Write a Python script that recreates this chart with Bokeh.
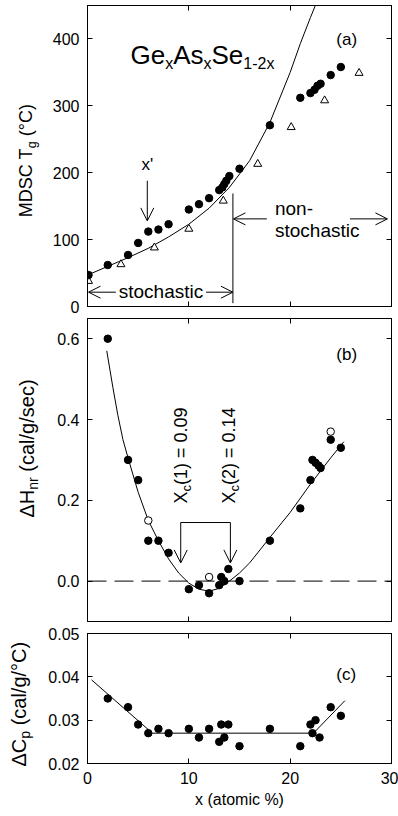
import math
from bokeh.plotting import figure
from bokeh.layouts import column, row
from bokeh.models import (Range1d, FixedTicker, LinearAxis, Label, Arrow, OpenHead,
                          Span, NumeralTickFormatter)
from bokeh.embed import file_html
from bokeh.resources import INLINE

FONT = "Liberation Sans"

# ---------------- data ----------------
# (a) MDSC Tg
tg_x = [0.1, 2, 4, 5, 6, 7, 8, 10, 11, 12, 13, 13.3, 13.5, 13.7, 14, 15, 18, 21, 22, 22.4, 22.7, 23, 24, 25]
tg_y = [47, 62, 77, 95, 112, 115, 123, 145, 153, 162, 174, 178, 183, 188, 195, 206, 271, 312, 319, 324, 330, 333, 346, 358]
tri_x = [0.1, 3.3, 6.6, 10, 13.4, 16.8, 20.1, 23.4, 26.8]
tri_y = [38, 63, 88, 116, 158, 213, 268, 308, 349]
fit_a_x = [0, 2, 4, 6, 8, 10, 12, 14, 16, 18, 20, 21, 22, 22.7]
fit_a_y = [47, 60, 73, 87, 104, 123, 147, 178, 218, 275, 350, 393, 432, 458]

# (b) non-reversing enthalpy
hnr_x = [2, 4, 5, 6, 7, 8, 10, 11, 12, 13, 13.2, 13.5, 13.9, 15, 18, 21, 22, 22.2, 22.5, 22.8, 23.0, 24, 25]
hnr_y = [0.60, 0.30, 0.25, 0.10, 0.10, 0.07, -0.02, -0.01, -0.03, -0.01, 0.01, 0.0, 0.03, 0.0,
         0.10, 0.18, 0.25, 0.30, 0.293, 0.286, 0.28, 0.35, 0.33]
hnr_open_x = [6, 12, 24]
hnr_open_y = [0.15, 0.01, 0.37]
fit_b_x = [1.9, 2.5, 3, 3.5, 4, 5, 6, 7, 8, 9, 10, 11, 12, 13, 14, 15, 16, 18, 20, 22, 24, 25.3]
fit_b_y = [0.57, 0.48, 0.41, 0.35, 0.305, 0.22, 0.15, 0.10, 0.055, 0.02, -0.005, -0.02, -0.025,
           -0.018, 0.0, 0.02, 0.045, 0.108, 0.17, 0.24, 0.305, 0.345]

# (c) delta Cp
cp_x = [2, 4, 5, 6, 7, 8, 10, 11, 12, 13, 13.2, 13.5, 13.9, 15, 18, 21, 22, 22.2, 22.5, 22.9, 24, 25]
cp_y = [0.035, 0.033, 0.029, 0.027, 0.028, 0.027, 0.028, 0.026, 0.028, 0.025, 0.029, 0.026, 0.029,
        0.024, 0.028, 0.024, 0.029, 0.027, 0.030, 0.026, 0.033, 0.031]
fit_c_x = [0.4, 6.4, 22.3, 25.4]
fit_c_y = [0.0393, 0.027, 0.027, 0.0345]

x_ticks = [0, 10, 20, 30]
a_ticks = [0, 100, 200, 300, 400]
b_ticks = [0.0, 0.2, 0.4, 0.6]
c_ticks = [0.02, 0.03, 0.04, 0.05]

# --------------- helpers ---------------
W = {'M': 833, 'D': 722, 'S': 667, 'C': 722, ' ': 278, 'T': 611, 'g': 556, '(': 333, '°': 400,
     ')': 333, 'Δ': 668, 'H': 722, 'n': 556, 'r': 333, 'c': 500, 'a': 556, 'l': 222, '/': 278,
     's': 500, 'e': 556, 'p': 556, 'X': 667, '1': 556, '2': 556, '0': 556, '9': 556, '4': 556,
     '.': 278, '=': 584, 'G': 778, 'A': 667, 'x': 500, '-': 333}
MID = 0.35  # distance (em) from baseline up to the middle of the text box


def tw(text, size):
    return sum(W.get(ch, 556) for ch in text) * size / 1000.0


def lab(p, x, y, text, size, align="left", angle=0.0, xo=0.0, yo=0.0):
    # (x, y) + offsets give the baseline point; the label is anchored at the box middle
    if angle == 0.0:
        yo = yo + MID * size
    else:
        xo = xo - MID * size
    p.add_layout(Label(x=x, y=y, text=text, angle=angle, x_offset=xo, y_offset=yo,
                       text_font=FONT, text_font_size=f"{size}px", text_color="black",
                       text_align=align, text_baseline="middle"))


def rich(p, x, y, pieces, angle=0.0):
    along = 0.0
    for text, size, shift in pieces:
        stripped = text.lstrip(" ")
        along += tw(text[:len(text) - len(stripped)], size)
        if angle == 0.0:
            xo, yo = along, -shift
        else:
            xo, yo = shift, along
        lab(p, x, y, stripped, size, angle=angle, xo=xo, yo=yo)
        along += tw(stripped, size)


def style_axis(ax, ticks, labels=False, fmt=None):
    ax.ticker = FixedTicker(ticks=ticks)
    ax.major_tick_in = 5
    ax.major_tick_out = 0
    ax.minor_tick_line_color = None
    ax.axis_line_color = "black"
    ax.major_tick_line_color = "black"
    if labels:
        ax.major_label_text_font = FONT
        ax.major_label_text_font_size = "16px"
        ax.major_label_text_color = "black"
        ax.major_label_standoff = 8
        if fmt:
            ax.formatter = NumeralTickFormatter(format=fmt)
    else:
        ax.major_label_text_font_size = "1px"
        ax.major_label_text_color = None
        ax.major_label_standoff = 0


LEFT_W = 44
TOTAL_H = 816


def make_fig(height, yr, top, bottom, yticks, fmt, xlabels=False):
    p = figure(width=398 - LEFT_W, height=height, x_range=Range1d(0, 30), y_range=Range1d(*yr),
               output_backend="svg", toolbar_location=None, min_border=0)
    p.min_border_left = 87 - LEFT_W
    p.min_border_right = 7
    p.min_border_top = top
    p.min_border_bottom = bottom
    p.grid.visible = False
    p.outline_line_color = "black"
    p.outline_line_width = 1
    p.background_fill_color = "white"
    p.border_fill_color = "white"
    bottom_axis = p.xaxis[0]
    style_axis(bottom_axis, x_ticks, labels=xlabels, fmt="0")
    style_axis(p.yaxis[0], yticks, labels=True, fmt=fmt)
    ra = LinearAxis()
    style_axis(ra, yticks)
    p.add_layout(ra, "right")
    ta = LinearAxis()
    style_axis(ta, x_ticks)
    p.add_layout(ta, "above")
    return p, bottom_axis


HA, HB, HC = 316, 307, 193

# side strip carrying the three y-axis titles (pixel coordinates, y measured upward)
side = figure(width=LEFT_W, height=TOTAL_H, x_range=Range1d(0, LEFT_W), y_range=Range1d(0, TOTAL_H),
              output_backend="svg", toolbar_location=None, min_border=0,
              x_axis_location=None, y_axis_location=None)
side.grid.visible = False
side.outline_line_color = None
side.background_fill_color = "white"
side.border_fill_color = "white"

# --------------- panel (a) ---------------
pa, _ = make_fig(HA, (0, 450), 5, 10, a_ticks, "0")
pa.line(fit_a_x, fit_a_y, line_color="black", line_width=1)
pa.scatter(tri_x, tri_y, marker="triangle", size=8, fill_color="white", line_color="black", line_width=1)
pa.scatter(tg_x, tg_y, marker="circle", size=7.5, fill_color="black", line_color="black")

rich(pa, 4.24, 362.8, [("Ge", 26, 0), ("x", 16, 5), ("As", 26, 0), ("x", 16, 5),
                       ("Se", 26, 0), ("1-2x", 16, 5)])
lab(pa, 24.55, 390, "(a)", 17)

# x' arrow
lab(pa, 5.9, 203, "x'", 17, align="center")
pa.add_layout(Arrow(x_start=5.9, y_start=188, x_end=5.9, y_end=128, line_width=1,
                    end=OpenHead(size=13, line_width=1)))

# stochastic / non-stochastic
x_split = 14.35
pa.segment(x0=[x_split], y0=[169], x1=[x_split], y1=[5], line_color="black", line_width=1)
lab(pa, 7.25, 12, "stochastic", 19, align="center")
pa.add_layout(Arrow(x_start=2.8, y_start=21.4, x_end=0.1, y_end=21.4, line_width=1,
                    end=OpenHead(size=12, line_width=1)))
pa.add_layout(Arrow(x_start=11.7, y_start=21.4, x_end=x_split, y_end=21.4, line_width=1,
                    end=OpenHead(size=12, line_width=1)))
lab(pa, 18.5, 136, "non-", 19)
lab(pa, 18.5, 103.6, "stochastic", 19)
pa.add_layout(Arrow(x_start=17.7, y_start=131, x_end=x_split + 0.05, y_end=131, line_width=1,
                    end=OpenHead(size=12, line_width=1)))
pa.add_layout(Arrow(x_start=25.9, y_start=131, x_end=29.6, y_end=131, line_width=1,
                    end=OpenHead(size=12, line_width=1)))

rich(side, 32, TOTAL_H - 216.7, [("MDSC T", 18, 0), ("g", 12.5, 3.5), (" (°C)", 18, 0)], angle=math.pi / 2)

# --------------- panel (b) ---------------
pb, _ = make_fig(HB, (-0.1, 0.65), 2, 2, b_ticks, "0.0")
pb.add_layout(Span(location=0, dimension="width", line_color="black", line_width=1, line_dash="19 8"))
pb.line(fit_b_x, fit_b_y, line_color="black", line_width=1)
pb.scatter(hnr_x, hnr_y, marker="circle", size=7.5, fill_color="black", line_color="black")
pb.scatter(hnr_open_x, hnr_open_y, marker="circle", size=7.5, fill_color="white", line_color="black")
lab(pb, 24.55, 0.546, "(b)", 17)

xc1, xc2, yb = 9.2, 14.1, 0.145
pb.segment(x0=[xc1], y0=[yb], x1=[xc2], y1=[yb], line_color="black", line_width=1)
for xc in (xc1, xc2):
    pb.add_layout(Arrow(x_start=xc, y_start=yb, x_end=xc, y_end=0.045, line_width=1,
                        end=OpenHead(size=13, line_width=1)))
rich(pb, 9.87, 0.192, [("X", 18, 0), ("c", 13, 3.5), ("(1) = 0.09", 18, 0)], angle=math.pi / 2)
rich(pb, 14.6, 0.192, [("X", 18, 0), ("c", 13, 3.5), ("(2) = 0.14", 18, 0)], angle=math.pi / 2)

rich(side, 33, TOTAL_H - 517, [("ΔH", 20, 0), ("nr", 14, 4), (" (cal/g/sec)", 20, 0)], angle=math.pi / 2)

# --------------- panel (c) ---------------
pc, xc_axis = make_fig(HC, (0.02, 0.05), 10, 53, c_ticks, "0.00", xlabels=True)
xc_axis.axis_label = "x (atomic %)"
xc_axis.axis_label_text_font = FONT
xc_axis.axis_label_text_font_size = "16px"
xc_axis.axis_label_text_font_style = "normal"
xc_axis.axis_label_text_color = "black"
xc_axis.axis_label_standoff = 4
pc.line(fit_c_x, fit_c_y, line_color="black", line_width=1)
pc.scatter(cp_x, cp_y, marker="circle", size=7.5, fill_color="black", line_color="black")
lab(pc, 24.55, 0.0391, "(c)", 17)

rich(side, 25, TOTAL_H - 766, [("ΔC", 20, 0), ("p", 14, 4), (" (cal/g/°C)", 20, 0)], angle=math.pi / 2)

layout = row(side, column(pa, pb, pc, spacing=0), spacing=0)
open("out.html", "w").write(file_html(layout, INLINE))
